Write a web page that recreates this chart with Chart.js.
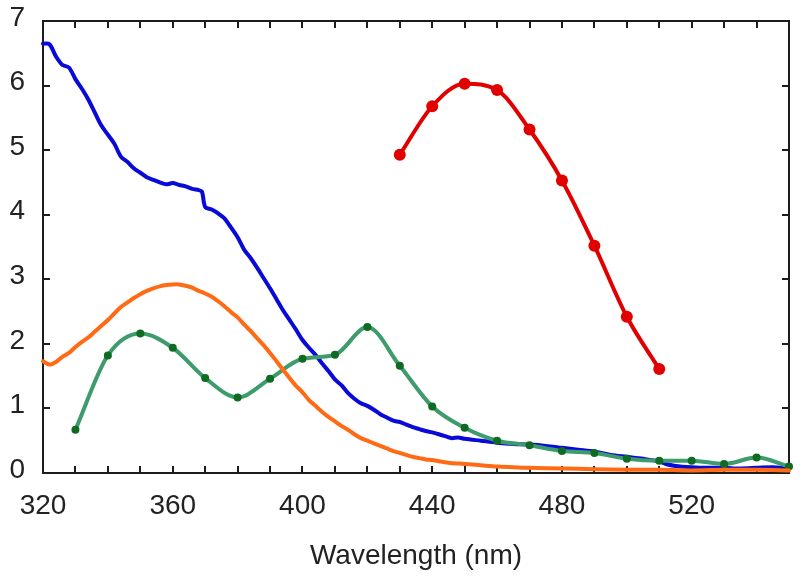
<!DOCTYPE html>
<html>
<head>
<meta charset="utf-8">
<script src="https://cdn.jsdelivr.net/npm/chart.js@4/dist/chart.umd.min.js"></script>
<style>
html,body{margin:0;padding:0;background:#fff;}
#wrap{width:800px;height:578px;}
</style>
</head>
<body>
<div id="wrap"><canvas id="c" width="800" height="578"></canvas></div>
<script>
// ---- data ----
const xTickLabels = [320, 360, 400, 440, 480, 520];
const yTickLabels = [0, 1, 2, 3, 4, 5, 6, 7];

const blueX = [320,322,324,326,328,330,332,334,336,338,340,342,344,346,348,350,352,354,356,358,360,362,364,366,368,369,370,372,374,376,378,380,382,384,386,388,390,392,394,396,398,400,402,404,406,408,410,412,414,416,418,420,422,424,426,428,430,432,434,436,438,440,442,444,446,448,450,455,460,465,470,475,480,485,490,495,500,505,510,512,515,520,525,530,535,540,545,550];
const blueY = [6.65,6.64,6.45,6.32,6.28,6.10,5.95,5.78,5.58,5.38,5.24,5.10,4.90,4.82,4.72,4.65,4.58,4.54,4.50,4.47,4.49,4.46,4.44,4.40,4.38,4.36,4.12,4.08,4.02,3.94,3.80,3.65,3.46,3.33,3.18,3.02,2.86,2.69,2.52,2.37,2.22,2.06,1.94,1.83,1.70,1.58,1.45,1.36,1.24,1.15,1.08,1.04,0.98,0.91,0.86,0.81,0.79,0.75,0.71,0.68,0.65,0.63,0.60,0.57,0.54,0.55,0.53,0.50,0.47,0.45,0.44,0.42,0.39,0.36,0.33,0.28,0.25,0.22,0.18,0.14,0.11,0.09,0.08,0.08,0.07,0.08,0.09,0.07];

const orangeX = [320,322,324,326,328,330,332,334,336,338,340,342,344,346,348,350,352,354,356,358,360,362,364,366,368,370,372,374,376,378,380,382,384,386,388,390,392,394,396,398,400,402,404,406,408,410,412,414,416,418,420,422,424,426,428,430,432,434,436,438,440,445,450,455,460,465,470,480,490,500,510,520,530,540,550];
const orangeY = [1.73,1.68,1.72,1.80,1.86,1.95,2.03,2.10,2.19,2.28,2.37,2.47,2.57,2.64,2.71,2.77,2.82,2.86,2.89,2.91,2.92,2.92,2.90,2.87,2.82,2.78,2.73,2.66,2.58,2.49,2.41,2.30,2.20,2.09,1.98,1.86,1.73,1.60,1.47,1.35,1.25,1.13,1.04,0.95,0.87,0.80,0.73,0.67,0.60,0.54,0.50,0.46,0.42,0.38,0.34,0.31,0.28,0.25,0.23,0.21,0.20,0.16,0.14,0.12,0.10,0.09,0.08,0.07,0.06,0.05,0.05,0.04,0.05,0.05,0.04];

const greenX = [330,340,350,360,370,380,390,400,410,420,430,440,450,460,470,480,490,500,510,520,530,540,550];
const greenY = [0.67,1.82,2.16,1.94,1.47,1.17,1.46,1.77,1.83,2.26,1.66,1.03,0.70,0.50,0.43,0.34,0.31,0.22,0.19,0.19,0.14,0.24,0.10];

const redX = [430,440,450,460,470,480,490,500,510];
const redY = [4.93,5.68,6.03,5.93,5.32,4.53,3.52,2.42,1.61];

const xMin = 320, xMax = 550, yMin = 0, yMax = 7;

// ---- build ----
const pts = (xs, ys) => xs.map((x, i) => ({x: x, y: ys[i]}));
const FONT = '"Liberation Sans", Arial, Helvetica, sans-serif';
const AXIS = '#1c1c1c';

const frameTicks = {
  id: 'frameTicks',
  beforeDatasetsDraw(chart) {
    const {ctx, chartArea: a, scales: {x, y}} = chart;
    ctx.save();
    ctx.strokeStyle = AXIS;
    ctx.lineWidth = 2;
    const L = 7;
    ctx.beginPath();
    for (let v = xMin; v <= xMax; v += 10) {
      const px = Math.round(x.getPixelForValue(v));
      ctx.moveTo(px, a.bottom); ctx.lineTo(px, a.bottom - L);
      ctx.moveTo(px, a.top); ctx.lineTo(px, a.top + L);
    }
    for (const v of yTickLabels) {
      const py = Math.round(y.getPixelForValue(v));
      ctx.moveTo(a.left, py); ctx.lineTo(a.left + L, py);
      ctx.moveTo(a.right, py); ctx.lineTo(a.right - L, py);
    }
    ctx.stroke();
    ctx.strokeRect(a.left, a.top, a.right - a.left, a.bottom - a.top);
    ctx.restore();
  }
};

new Chart(document.getElementById('c'), {
  type: 'line',
  data: {
    datasets: [
      {
        data: pts(redX, redY),
        borderColor: '#e00000', backgroundColor: '#e00000',
        borderWidth: 4, pointRadius: 6, pointBorderWidth: 0,
        pointBackgroundColor: '#e00000',
        cubicInterpolationMode: 'monotone'
      },
      {
        data: pts(orangeX, orangeY),
        borderColor: '#ff6a14', borderWidth: 4, pointRadius: 0,
        tension: 0.3, borderCapStyle: 'round'
      },
      {
        data: pts(greenX, greenY),
        borderColor: '#3d9b6c', borderWidth: 4,
        pointRadius: 4, pointBorderWidth: 0,
        pointBackgroundColor: '#0f6a22',
        cubicInterpolationMode: 'monotone'
      },
      {
        data: pts(blueX, blueY),
        borderColor: '#0a0ad8', borderWidth: 4, pointRadius: 0,
        tension: 0.3, borderCapStyle: 'round'
      }
    ]
  },
  options: {
    responsive: false,
    animation: false,
    events: [],
    clip: 6,
    layout: {padding: {top: 21, right: 11, left: 0, bottom: 0}},
    plugins: {legend: {display: false}, tooltip: {enabled: false}},
    scales: {
      x: {
        type: 'linear', min: xMin, max: xMax,
        grid: {display: false, drawTicks: false},
        border: {display: false},
        afterBuildTicks: s => { s.ticks = xTickLabels.map(v => ({value: v})); },
        afterFit: s => { s.height = 105; s.paddingLeft = 0; s.paddingRight = 0; },
        ticks: {
          font: {family: FONT, size: 28}, color: '#222',
          padding: 16, maxRotation: 0, autoSkip: false
        },
        title: {
          display: true, text: 'Wavelength (nm)',
          font: {family: FONT, size: 28}, color: '#222',
          padding: {top: 0, bottom: 5}
        }
      },
      y: {
        min: yMin, max: yMax,
        grid: {display: false, drawTicks: false},
        border: {display: false},
        afterBuildTicks: s => { s.ticks = yTickLabels.map(v => ({value: v})); },
        afterFit: s => { s.width = 43; s.paddingTop = 0; s.paddingBottom = 0; },
        ticks: {
          font: {family: FONT, size: 28}, color: '#222',
          padding: 18, labelOffset: -3
        }
      }
    }
  },
  plugins: [frameTicks]
});
</script>
</body>
</html>
